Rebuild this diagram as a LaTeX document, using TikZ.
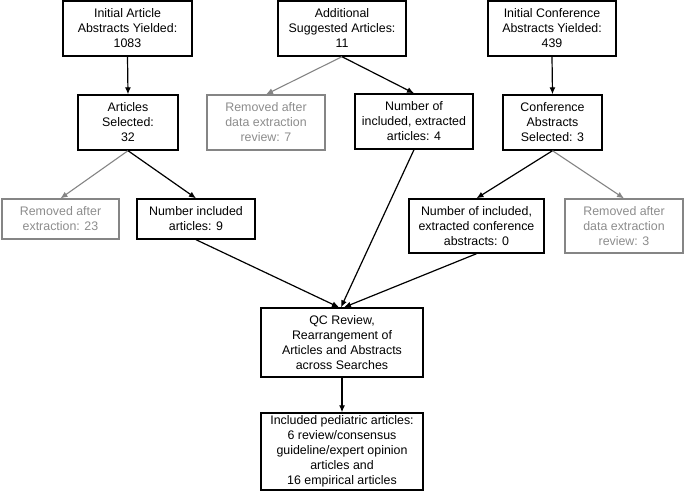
\documentclass[tikz,border=0pt]{standalone}
\usepackage{fontspec}
\setmainfont{Liberation Sans}
\usetikzlibrary{arrows.meta}
\definecolor{dimgray}{HTML}{858585}
\definecolor{dimtext}{HTML}{8C8C8C}
\begin{document}
\begin{tikzpicture}[x=1pt,y=-1pt,
  box/.style={draw=black,line width=1.4pt,rectangle,inner sep=0pt,align=center,
    font=\fontsize{12.4}{15}\selectfont,text=black},
  greybox/.style={box,draw=dimgray,line width=1.2pt,text=dimtext},
  arr/.style={draw=black,line width=1.2pt,-{Latex[length=7pt,width=6pt]}},
  greyarr/.style={draw=dimgray,line width=1.1pt,-{Latex[length=7pt,width=6pt]}}]
\useasboundingbox (0,0) rectangle (685,500);
% top row
\node[box,minimum width=129pt,minimum height=55pt] (a1) at (127.5,28.5) {Initial Article\\Abstracts Yielded:\\1083};
\node[box,minimum width=128pt,minimum height=55pt] (a2) at (342,28.5) {Additional\\Suggested Articles:\\11};
\node[box,minimum width=128pt,minimum height=55pt] (a3) at (552,28.5) {Initial Conference\\Abstracts Yielded:\\439};
% second row
\node[box,minimum width=100pt,minimum height=55pt] (b1) at (128,122.5) {Articles\\Selected:\\32};
\node[greybox,minimum width=118pt,minimum height=55pt] (b2) at (266,122.5) {Removed after\\data extraction\\review: 7};
\node[box,minimum width=118pt,minimum height=55pt] (b3) at (414,121.5) {Number of\\included, extracted\\articles: 4};
\node[box,minimum width=99pt,minimum height=55pt] (b4) at (552.5,122.5) {Conference\\Abstracts\\Selected: 3};
% third row
\node[greybox,minimum width=117pt,minimum height=40pt] (c1) at (60.5,219) {Removed after\\extraction: 23};
\node[box,minimum width=118pt,minimum height=40pt] (c2) at (196,219) {Number included\\articles: 9};
\node[box,minimum width=135pt,minimum height=54pt] (c3) at (476.5,226) {Number of included,\\extracted conference\\abstracts: 0};
\node[greybox,minimum width=118pt,minimum height=54pt] (c4) at (624,226) {Removed after\\data extraction\\review: 3};
% bottom
\node[box,minimum width=162pt,minimum height=69pt] (d) at (342,342.5) {QC Review,\\Rearrangement of\\Articles and Abstracts\\across Searches};
\node[box,minimum width=162pt,minimum height=77pt] (e) at (342,451.5) {Included pediatric articles:\\6 review/consensus\\guideline/expert opinion\\articles and\\16 empirical articles};
% connectors
\draw[arr] (a1.south) -- (b1.north);
\draw[arr] (a3.south) -- (b4.north);
\draw[greyarr] (a2.south) -- (b2.north);
\draw[arr] (a2.south) -- (b3.north);
\draw[greyarr] (b1.south) -- (c1.north);
\draw[arr] (b1.south) -- (c2.north);
\draw[arr] (b4.south) -- (c3.north);
\draw[greyarr] (b4.south) -- (c4.north);
\draw[arr] (c2.south) -- ([xshift=-3pt]d.north);
\draw[arr] (b3.south) -- ([xshift=-1pt]d.north);
\draw[arr] (c3.south) -- ([xshift=2pt]d.north);
\draw[arr] (d.south) -- (e.north);
\end{tikzpicture}
\end{document}
